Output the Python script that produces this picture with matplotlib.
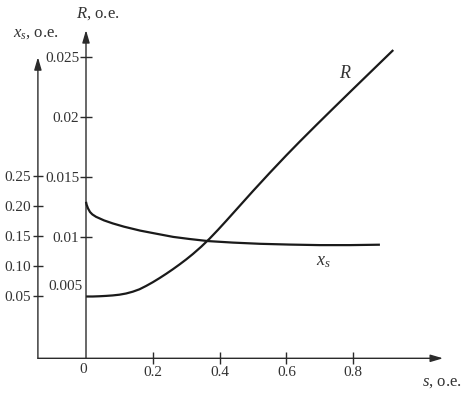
import matplotlib.pyplot as plt

plt.rcParams["font.family"] = ["Liberation Serif", "DejaVu Serif"]
plt.rcParams["mathtext.fontset"] = "custom"
plt.rcParams["mathtext.rm"] = "Liberation Serif"
plt.rcParams["mathtext.it"] = "Liberation Serif:italic"

# R(s), o.e.
s_R = [0, 0.02, 0.04, 0.06, 0.08, 0.10, 0.12, 0.14, 0.16, 0.18, 0.20, 0.22, 0.24, 0.26,
       0.28, 0.30, 0.32, 0.345, 0.37, 0.395, 0.42, 0.45, 0.50, 0.55, 0.60, 0.64,
       0.69, 0.74, 0.80, 0.86, 0.92]
R = [0.0050, 0.00500, 0.00502, 0.00505, 0.00509, 0.00515, 0.00525, 0.00540, 0.00560,
     0.00588, 0.00619, 0.00653, 0.00689, 0.00727, 0.00767, 0.00809, 0.00854, 0.00915,
     0.00982, 0.01055, 0.01131, 0.01224, 0.01379, 0.01530, 0.01677, 0.01791,
     0.01930, 0.02067, 0.02230, 0.02392, 0.02554]

# x_s(s), o.e.
s_xs = [0, 0.002, 0.006, 0.012, 0.019, 0.03, 0.054, 0.08, 0.114, 0.162, 0.204, 0.261,
        0.31, 0.366, 0.44, 0.521, 0.61, 0.70, 0.79, 0.88]
xs = [0.207, 0.202, 0.196, 0.190, 0.186, 0.182, 0.176, 0.171, 0.1655, 0.159, 0.1545,
      0.1485, 0.145, 0.1415, 0.139, 0.137, 0.1357, 0.1348, 0.1348, 0.1355]

s_ticks = [0.2, 0.4, 0.6, 0.8]
s_tick_labels = ["0.2", "0.4", "0.6", "0.8"]
R_ticks = [0.01, 0.015, 0.02, 0.025]
R_tick_labels = ["0.01", "0.015", "0.02", "0.025"]
xs_ticks = [0.05, 0.10, 0.15, 0.20, 0.25]
xs_tick_labels = ["0.05", "0.10", "0.15", "0.20", "0.25"]

text_c = "#333333"
line_c = "#1a1a1a"
axis_c = "#2b2b2b"

fig = plt.figure(figsize=(4.77, 3.94), dpi=100)
ax = fig.add_axes([0, 0, 1, 1])
ax.set_xlim(-86 / 334, (477 - 86) / 334)
ax.set_ylim((356.5 - 394) / 12000, 356.5 / 12000)
ax2 = ax.twinx()
ax2.set_ylim((326 - 394) / 600, 326 / 600)

x_base = -0.00015
xs_axis_s = -0.144

for a in (ax, ax2):
    for sp in a.spines.values():
        sp.set_visible(False)

ax.spines["left"].set_position(("data", 0))
ax.spines["bottom"].set_position(("data", x_base))
ax2.spines["left"].set_position(("data", xs_axis_s))
ax2.yaxis.tick_left()

ax.set_xticks(s_ticks, s_tick_labels)
ax.set_yticks(R_ticks, R_tick_labels)
ax2.set_yticks(xs_ticks, xs_tick_labels)

ax.tick_params(axis="x", direction="inout", length=8.6, width=1, color=axis_c,
               labelcolor=text_c, labelsize=11, pad=1.5)
ax.tick_params(axis="y", direction="inout", length=8.6, width=1, color=axis_c,
               labelcolor=text_c, labelsize=11, pad=0.5)
ax2.tick_params(axis="y", direction="inout", length=7.2, width=1, color=axis_c,
                labelcolor=text_c, labelsize=11, pad=1.5)

arrow = dict(arrowstyle="-|>,head_length=0.75,head_width=0.22", color=axis_c, lw=1,
             shrinkA=0, shrinkB=0)
# axes with arrows
ax.annotate("", xy=(1.069, x_base), xytext=(xs_axis_s, x_base), arrowprops=arrow)
ax.annotate("", xy=(0, 0.0272), xytext=(0, x_base), arrowprops=arrow)
ax2.annotate("", xy=(xs_axis_s, 0.448), xytext=(xs_axis_s, -0.054), arrowprops=arrow)

# curves
ax.plot(s_R, R, color=line_c, lw=1.6, solid_capstyle="butt", solid_joinstyle="round")
ax2.plot(s_xs, xs, color=line_c, lw=1.6, solid_capstyle="butt", solid_joinstyle="round")

# extra labels
ax.text(-0.009, 0.0058, "0.005", ha="right", va="center", fontsize=11, color=text_c)
ax.text(-0.008, -0.0011, "0", ha="center", va="center", fontsize=11, color=text_c)

ax.text(0.036, 0.0286, "$R$, o.e.", ha="center", va="center", fontsize=12, color=text_c)
ax2.text(-0.2186, 0.488, "$x_s$, o.e.", ha="left", va="center", fontsize=12, color=text_c)
ax.text(1.006, -0.0021, "$s$, o.e.", ha="left", va="center", fontsize=12, color=text_c)

ax.text(0.778, 0.0236, "$R$", ha="center", va="center", fontsize=13, color=text_c)
ax2.text(0.71, 0.107, "$x_s$", ha="center", va="center", fontsize=13, color=text_c)

fig.savefig("out.png", dpi=100)
